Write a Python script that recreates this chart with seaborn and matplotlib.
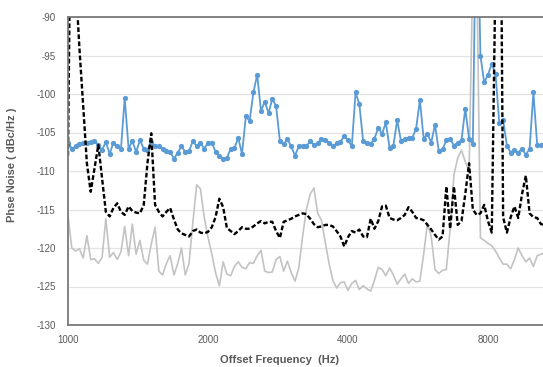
import numpy as np
import pandas as pd
import matplotlib
matplotlib.use("Agg")
import matplotlib.pyplot as plt
from matplotlib.ticker import NullLocator
import seaborn as sns

# offset frequency grid (Hz), log spaced
freq = [1000, 1019, 1038, 1058, 1078, 1098, 1119, 1140, 1162, 1184, 1206, 1229, 1252, 1276,
        1300, 1324, 1350, 1375, 1401, 1428, 1455, 1482, 1510, 1539, 1568, 1597, 1628, 1658,
        1690, 1722, 1754, 1787, 1821, 1856, 1891, 1926, 1963,
        2000, 2038, 2076, 2116, 2156, 2196, 2238, 2280, 2323, 2367, 2412, 2458, 2504, 2552,
        2600, 2649, 2699, 2750, 2802, 2855, 2909, 2964, 3020, 3077, 3135, 3195, 3255, 3317,
        3379, 3443, 3508, 3575, 3642, 3711, 3781, 3853, 3926,
        4000, 4076, 4153, 4231, 4311, 4393, 4476, 4560, 4647, 4735, 4824, 4915, 5008, 5103,
        5200, 5298, 5398, 5500, 5604, 5710, 5818, 5928, 6040, 6154, 6271, 6389, 6510, 6633,
        6759, 6887, 7017, 7149, 7285, 7422, 7563, 7706, 7851,
        8000, 8151, 8305, 8462, 8623, 8786, 8952, 9121, 9293, 9469, 9648, 9831, 10017, 10206,
        10399, 10596]

# measured phase noise (blue, markers)
measured = [-106.3, -107.1, -106.8, -106.5, -106.4, -106.3, -106.2, -106.1, -106.6, -107.3,
            -106.2, -107.8, -106.3, -106.8, -107.1, -100.5, -107.1, -106.1, -107.5, -106.0,
            -107.1, -107.3, -106.2, -106.8, -106.8, -107.1, -107.4, -107.5, -108.4, -107.6,
            -106.8, -107.5, -107.4, -106.1, -106.8, -106.3, -107.1, -106.3, -106.3, -107.5,
            -108.0, -108.4, -108.3, -107.1, -107.0, -105.7, -107.8, -102.9, -103.5, -99.8,
            -97.5, -102.2, -101.0, -102.5, -100.6, -101.6, -106.1, -106.5, -105.9, -106.8,
            -108.0, -106.8, -106.8, -106.8, -106.1, -106.6, -106.4, -105.9, -106.0, -106.3,
            -106.8, -106.4, -106.2, -105.5, -106.0, -106.8, -99.8, -101.3, -106.1, -106.4,
            -106.5, -105.8, -104.4, -105.2, -103.7, -107.0, -106.7, -103.4, -106.1, -105.8,
            -105.7, -105.7, -104.5, -100.8, -105.8, -105.2, -106.3, -104.0, -107.4, -107.2,
            -106.0, -105.8, -106.7, -106.3, -106.0, -101.9, -105.8, -106.5, -70.0, -95.0,
            -98.5, -97.5, -96.1, -97.4, -103.8, -103.4, -106.7, -107.6, -107.3, -107.6,
            -107.1, -107.9, -107.1, -99.8, -106.6, -106.6, -106.5]

# black dashed trace
dashed = [-108.0, -60.0, -85.0, -94.0, -101.5, -109.0, -112.7, -109.7, -106.6, -111.0,
          -115.3, -115.9, -114.8, -114.2, -115.3, -115.7, -114.6, -115.2, -115.4, -115.5,
          -114.4, -109.0, -105.1, -114.4, -115.3, -115.9, -115.3, -114.8, -116.3, -117.6,
          -118.1, -118.3, -118.5, -117.8, -117.6, -118.0, -118.1, -117.9, -117.3, -116.0,
          -113.6, -114.7, -117.4, -117.8, -118.2, -117.8, -117.3, -117.5, -117.5, -117.2,
          -116.8, -116.5, -116.8, -116.6, -116.6, -117.8, -118.7, -116.6, -116.4, -116.2,
          -115.9, -115.7, -115.5, -115.6, -116.2, -116.9, -117.3, -117.2, -117.0, -117.0,
          -117.2, -117.8, -118.5, -119.8, -118.6, -117.8, -118.0, -117.6, -118.5, -118.6,
          -116.2, -117.5, -116.5, -114.6, -114.5, -116.1, -116.3, -116.4, -116.1, -115.7,
          -114.7, -115.3, -116.1, -116.2, -116.4, -117.0, -117.6, -118.3, -118.9, -118.5,
          -112.0, -117.5, -112.0, -117.0, -116.5, -113.0, -109.0, -115.0, -115.7, -115.5,
          -114.4, -116.5, -118.0, -84.0, -50.0, -116.0, -118.0, -116.0, -114.6, -116.1,
          -113.0, -110.6, -115.5, -116.0, -116.1, -116.9, -117.0]

# light gray trace
gray = [-115.8, -120.0, -120.4, -120.1, -121.3, -118.4, -121.5, -121.4, -122.0, -121.2,
        -116.2, -121.2, -120.6, -121.5, -120.5, -117.2, -121.0, -116.9, -120.8, -119.0,
        -121.6, -122.1, -119.5, -117.3, -123.0, -123.5, -122.0, -121.0, -123.5, -122.0,
        -120.0, -123.5, -122.0, -116.6, -111.8, -112.3, -116.0, -118.6, -120.8, -123.2,
        -124.9, -121.8, -123.4, -123.6, -122.4, -121.8, -122.5, -122.7, -121.9, -122.0,
        -121.0, -120.3, -123.0, -123.2, -123.1, -121.5, -121.1, -123.0, -121.7, -123.2,
        -124.3, -122.6, -118.5, -115.0, -113.0, -112.2, -115.5, -116.4, -119.3, -122.0,
        -124.2, -125.2, -124.5, -124.4, -125.5, -124.6, -124.2, -125.4, -124.9, -125.3,
        -125.6, -124.2, -122.5, -122.8, -123.6, -122.6, -123.5, -124.7, -124.0, -123.4,
        -124.6, -124.0, -124.4, -124.3, -120.8, -116.8, -118.5, -122.8, -123.3, -122.9,
        -122.8, -117.5, -110.5, -108.3, -107.3, -108.8, -110.0, -84.0, -82.0, -118.7,
        -119.0, -119.4, -119.7, -120.4, -121.3, -122.1, -122.1, -122.7, -121.5, -120.0,
        -121.0, -121.8, -121.3, -122.4, -121.0, -120.8, -120.6]

xticks = [1000, 2000, 4000, 8000]
xtick_labels = ["1000", "2000", "4000", "8000"]
yticks = [-130, -125, -120, -115, -110, -105, -100, -95, -90]
ytick_labels = ["-130", "-125", "-120", "-115", "-110", "-105", "-100", "-95", "-90"]

df = pd.DataFrame({"freq": freq, "measured": measured, "dashed": dashed, "gray": gray})

sns.set_style("white")
plt.rcParams["font.family"] = ["Liberation Sans", "DejaVu Sans"]

fig, ax = plt.subplots(figsize=(5.43, 3.67), dpi=100)
fig.subplots_adjust(left=68 / 543, right=1.0, bottom=1 - 325 / 367, top=1 - 17 / 367)

sns.lineplot(data=df, x="freq", y="gray", color="#c3c3c3", lw=1.2, ax=ax)
sns.lineplot(data=df, x="freq", y="measured", color="#5b9bd5", lw=1.3, marker="o",
             markersize=3.8, markeredgewidth=0, ax=ax)
sns.lineplot(data=df, x="freq", y="dashed", color="black", lw=1.7, ax=ax)
ax.lines[-1].set_dashes((2, 1))

ax.set_xscale("log", base=2)
ax.set_xlim(1000, 10505)
ax.set_ylim(-130, -90)
ax.set_xticks(xticks)
ax.set_xticklabels(xtick_labels)
ax.xaxis.set_minor_locator(NullLocator())
ax.set_yticks(yticks)
ax.set_yticklabels(ytick_labels)

ax.yaxis.grid(True, color="#e3e3e3", lw=0.9)
ax.set_axisbelow(True)
for side in ["left", "top", "bottom"]:
    ax.spines[side].set_color("#7a7a7a")
    ax.spines[side].set_linewidth(1.3)
ax.spines["right"].set_visible(False)

ax.tick_params(axis="y", length=0, pad=9, labelsize=7, labelcolor="#595959")
ax.tick_params(axis="x", direction="in", length=3, color="#d0d0d0", pad=7,
               labelsize=7, labelcolor="#595959")

ax.set_ylabel("Phse Noise ( dBc/Hz )", fontsize=8, fontweight="bold", color="#595959")
ax.set_xlabel("Offset Frequency  (Hz)", fontsize=8, fontweight="bold", color="#595959")
ax.yaxis.set_label_coords(-0.107, 0.52)
ax.xaxis.set_label_coords(0.446, -0.098)

fig.savefig("out.png", dpi=100)
